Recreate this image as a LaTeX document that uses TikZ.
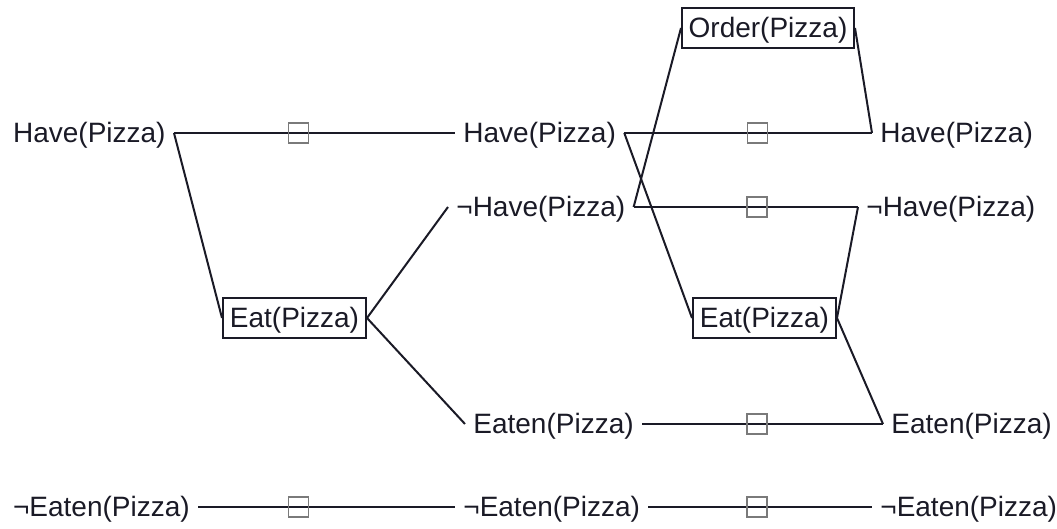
\documentclass[tikz,border=0pt]{standalone}
\usepackage{fontspec}
\setmainfont{Liberation Sans}
\definecolor{ink}{HTML}{1A1A26}
\definecolor{boxgray}{HTML}{7A7A7A}
\begin{document}
\begin{tikzpicture}[x=0.5pt,y=-0.5pt,
  lit/.style={inner xsep=4pt, inner ysep=0pt, text height=10pt, text depth=0pt,
    anchor=west, font=\fontsize{14}{16}\selectfont, text=ink},
  act/.style={draw=ink, line width=1pt, inner xsep=0pt, inner ysep=0pt,
    text height=10pt, text depth=0pt, minimum height=20pt,
    font=\fontsize{14}{16}\selectfont, text=ink},
  persist/.style={draw=boxgray, line width=0.6pt, minimum size=10pt, inner sep=0pt},
  link/.style={draw=ink, line width=1pt, line join=miter}]
\useasboundingbox (0,0) rectangle (1057,529);

% column 1
\node[lit] (h1) at (4.7,133) {Have(Pizza)};
\node[lit] (ne1) at (4.7,507) {¬Eaten(Pizza)};
% actions layer 1
\node[act, minimum width=71.5pt] (eat1) at (294.5,318) {Eat(Pizza)};
% column 2
\node[lit] (h2) at (455,133) {Have(Pizza)};
\node[lit] (nh2) at (448,207) {¬Have(Pizza)};
\node[lit] (e2) at (465,424) {Eaten(Pizza)};
\node[lit] (ne2) at (455,507) {¬Eaten(Pizza)};
% actions layer 2
\node[act, minimum width=86pt] (order) at (768,28) {Order(Pizza)};
\node[act, minimum width=71.5pt] (eat2) at (764.5,318) {Eat(Pizza)};
% column 3
\node[lit] (h3) at (872,133) {Have(Pizza)};
\node[lit] (nh3) at (858,207) {¬Have(Pizza)};
\node[lit] (e3) at (883,424) {Eaten(Pizza)};
\node[lit] (ne3) at (872,507) {¬Eaten(Pizza)};

% layer 1 links
\draw[link] (h1.east) -- (h2.west);
\draw[link] (h1.east) -- (eat1.west);
\draw[link] (eat1.east) -- (nh2.west);
\draw[link] (eat1.east) -- (e2.west);
\draw[link] (ne1.east) -- (ne2.west);
% layer 2 links
\draw[link] (h2.east) -- (h3.west);
\draw[link] (h2.east) -- (eat2.west);
\draw[link] (nh2.east) -- (nh3.west);
\draw[link] (nh2.east) -- (order.west);
\draw[link] (order.east) -- (h3.west);
\draw[link] (nh3.west) -- (eat2.east);
\draw[link] (eat2.east) -- (e3.west);
\draw[link] (e2.east) -- (e3.west);
\draw[link] (ne2.east) -- (ne3.west);

% persistence markers
\node[persist] (p1) at (298.5,133) {};
\node[persist] (p2) at (298.5,507) {};
\node[persist] (p3) at (757.5,133) {};
\node[persist] (p4) at (757,207) {};
\node[persist] (p5) at (757,424) {};
\node[persist] (p6) at (757,507) {};
\end{tikzpicture}
\end{document}
